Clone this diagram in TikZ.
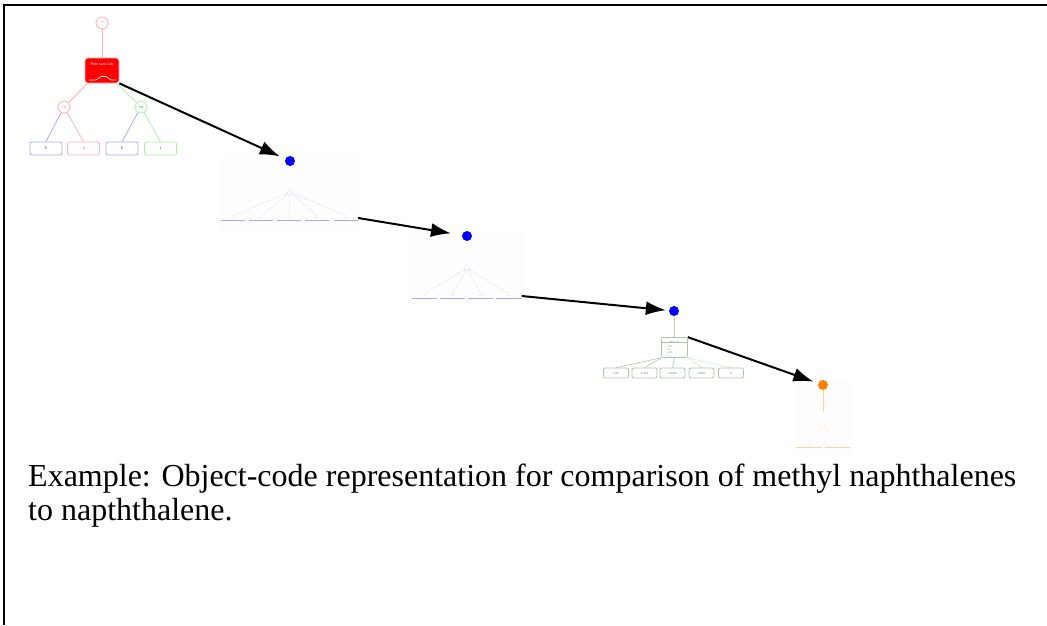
\documentclass[tikz,border=0pt]{standalone}
\usepackage{fontspec}
\setmainfont{Liberation Serif}
\newfontfamily\tinysans{Liberation Sans}
\usetikzlibrary{arrows.meta,calc}
\definecolor{pinkl}{HTML}{FFB0B0}
\definecolor{bluel}{HTML}{A8A8FF}
\definecolor{greenl}{HTML}{A8F0A8}
\definecolor{graygreen}{HTML}{A8C8A8}
\definecolor{orangel}{HTML}{FFD0A0}
\definecolor{orangedot}{HTML}{FF8000}
\definecolor{panel}{HTML}{FDFDFD}
\tikzset{
  x=1pt,y=-1pt,
  tinytxt/.style={font=\tinysans\fontsize{3.6}{4}\selectfont},
  circ/.style={circle,draw,line width=0.8pt,minimum size=12pt,inner sep=0pt,tinytxt},
  leaf/.style={rectangle,rounded corners=2pt,draw,line width=0.8pt,minimum width=32pt,minimum height=13pt,inner sep=0pt,tinytxt},
  edge1/.style={line width=0.8pt},
  dotn/.style={circle,fill,inner sep=0pt,minimum size=10pt},
  panelbox/.style={fill=panel,draw=none},
  ulab/.style={tinytxt,text=blue!70,inner sep=0.5pt,minimum width=24pt,minimum height=4pt,append after command={(\tikzlastnode.south west) edge[draw=bluel,line width=1pt] (\tikzlastnode.south east)}},
  hub/.style={circle,draw,densely dotted,line width=0.3pt,minimum size=5pt,inner sep=0pt},
  dotline/.style={densely dotted,line width=0.4pt},
  bigarrow/.style={line width=2pt,-{Latex[length=20pt,width=14pt]}},
}
\begin{document}
\begin{tikzpicture}
\useasboundingbox (0,0) rectangle (1047,625);
% frame
\draw[line width=1.2pt] (4,625) -- (4,5) -- (1047,5);

% ---------- tree 1 ----------
\node[circ,draw=pinkl,text=pinkl] (qr) at (102,23) {QR};
\node[rectangle,rounded corners=3pt,fill=red,draw=pinkl,line width=0.8pt,minimum width=34pt,minimum height=25pt,inner sep=0pt] (calc) at (102,70.5) {};
\node[tinytxt,text=white,anchor=north] (calct) at (102,59.5) {Pure sum calc};
\draw[white,line width=0.6pt] (89,80) -- (96,80) .. controls (98,80) and (99,76.5) .. (101,76.5) -- (106,76.5) .. controls (108,76.5) and (109,80) .. (111,80) -- (116,80);
\node[circ,draw=pinkl,text=red!60] (c1) at (64,107) {+e};
\node[circ,draw=greenl,text=green!60!black] (c2) at (141,107) {+e};
\node[leaf,draw=bluel,text=blue] (l1) at (46,148.5) {5};
\node[leaf,draw=pinkl,text=red] (l2) at (83.5,148.5) {-1};
\node[leaf,draw=bluel,text=blue] (l3) at (122,148.5) {5};
\node[leaf,draw=greenl,text=green!50!black] (l4) at (160.5,148.5) {1};
\draw[edge1,pinkl] (qr) -- (calc);
\draw[edge1,pinkl] ($(calc.south west)+(3,0)$) -- (c1);
\draw[edge1,greenl] ($(calc.south east)+(-3,0)$) -- (c2);
\draw[edge1,bluel] (c1) -- (l1.north);
\draw[edge1,pinkl] (c1) -- (l2.north);
\draw[edge1,bluel] (c2) -- (l3.north);
\draw[edge1,greenl] (c2) -- (l4.north);

% ---------- node 2 ----------
\fill[panelbox] (220,155) rectangle (360,232);
\node[dotn,fill=blue] (d2) at (290,161) {};
\node[hub,draw=blue!40] (h2) at (290,192) {};
\foreach \i/\xx in {1/233,2/261,3/289,4/317,5/346}{
  \node[ulab] (a\i) at (\xx,218) {\textellipsis};
  \draw[dotline,draw=blue!30] (h2) -- (a\i.north);
}

% ---------- node 3 ----------
\fill[panelbox] (410,230) rectangle (523,305);
\node[dotn,fill=blue] (d3) at (467,236) {};
\node[hub,draw=blue!40] (h3) at (467,268) {};
\foreach \i/\xx in {1/424.5,2/452.5,3/480.5,4/509}{
  \node[ulab,minimum width=25pt] (b\i) at (\xx,296) {\textellipsis};
  \draw[dotline,draw=blue!30] (h3) -- (b\i.north);
}

% ---------- node 4 ----------
\node[dotn,fill=blue] (d4) at (674,311) {};
\node[rectangle,rounded corners=2pt,draw=graygreen,line width=0.7pt,minimum width=26pt,minimum height=20pt,inner sep=0pt] (tm) at (674.5,347.5) {};
\node[tinytxt,text=gray,anchor=north,font=\tinysans\fontsize{3}{3.5}\selectfont] (tmt) at (674.5,338) {TM calc};
\draw[graygreen,line width=0.4pt] (tm.west |- 342,342) -- (tm.east |- 342,342);
\node[tinytxt,text=gray,anchor=north west,align=left,font=\tinysans\fontsize{2.5}{3}\selectfont] (tml) at (663,342) {+ 18\\+ 6\\+ 2.5\\+ 1};
\draw[edge1,graygreen] (d4) -- (tm);
\foreach \i/\xx/\t in {1/616/4.25,2/644.5/0.125,3/672.5/0.0425,4/701.5/0.025,5/731/0}{
  \node[leaf,draw=graygreen,text=gray,minimum width=25pt,minimum height=10pt,font=\tinysans\fontsize{3}{3.5}\selectfont] (g\i) at (\xx,373) {\t};
}
\draw[graygreen,line width=0.6pt] (tm.south west) -- (g1.north);
\draw[graygreen,line width=0.6pt] (tm.south west) -- (g2.north);
\draw[graygreen,line width=0.6pt] (tm.south) -- (g3.north);
\draw[graygreen,densely dotted,line width=0.6pt] (tm.south east) -- (g4.north);
\draw[graygreen,densely dotted,line width=0.6pt] (tm.south east) -- (g5.north);

% ---------- node 5 ----------
\fill[panelbox] (795,380) rectangle (852,455);
\node[dotn,fill=orangedot] (d5) at (823,385) {};
\coordinate (o5) at (823,412);
\draw[orangel,line width=1pt] (d5) -- (o5);
\node[hub,draw=orangel] (h5) at (823,425) {};
\foreach \i/\xx in {1/809,2/837.5}{
  \node[ulab,text=orangedot,minimum width=25pt,append after command={(\tikzlastnode.south west) edge[draw=orangel,line width=1pt] (\tikzlastnode.south east)}] (e\i) at (\xx,445) {\textellipsis};
  \draw[dotline,draw=orangel] (h5) -- (e\i.north);
}

% ---------- arrows ----------
\draw[bigarrow,shorten >=6pt] (calc.south east) -- (d2);
\draw[bigarrow,shorten >=11pt] (a5.east) -- (d3);
\draw[bigarrow,shorten >=3pt] (b4.east) -- (d4);
\draw[bigarrow,shorten >=5pt] (tm.north east) -- (d5);

% ---------- caption ----------
\node[anchor=base west,inner sep=0pt,font=\fontsize{32}{36}\selectfont] (cap1) at (28,486) {Example: Object-code representation for comparison of methyl naphthalenes};
\node[anchor=base west,inner sep=0pt,font=\fontsize{32}{36}\selectfont] (cap2) at (28,520) {to napththalene.};
\end{tikzpicture}
\end{document}
